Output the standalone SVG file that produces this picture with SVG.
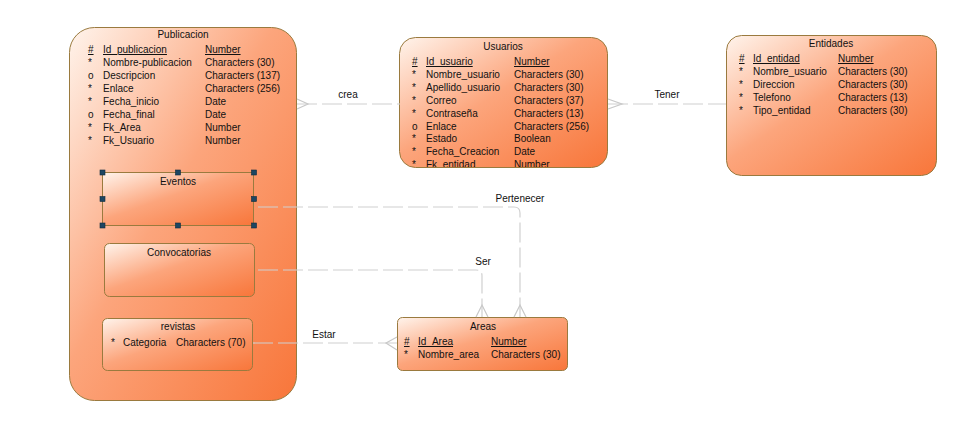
<svg xmlns="http://www.w3.org/2000/svg" width="960" height="442" viewBox="0 0 960 442">
<style>
text{font-family:"Liberation Sans",Arial,sans-serif;font-size:10px;fill:#111}
.t{text-anchor:middle}
.u{text-decoration:underline}
.box{fill:url(#g);stroke:#9a7a3e;stroke-width:1}
.con{fill:none;stroke:#d0d0d0;stroke-width:1.2;stroke-dasharray:20 5}
.cf{fill:none;stroke:#c8c8c8;stroke-width:1.2}
.h{fill:#1d4662;stroke:#0f2a3e;stroke-width:0.6}
</style>
<defs>
<linearGradient id="g" x1="0" y1="0" x2="1" y2="1">
<stop offset="0" stop-color="#fff4ec"/>
<stop offset="0.45" stop-color="#fca57c"/>
<stop offset="1" stop-color="#f8763a"/>
</linearGradient>
<clipPath id="cu"><rect x="400" y="38" width="207" height="129" rx="16"/></clipPath>
</defs>
<rect width="960" height="442" fill="#fff"/>

<g id="Publicacion">
<rect class="box" x="69.5" y="27.5" width="227" height="373" rx="25"/>
<text class="t" x="183" y="38">Publicacion</text>
<text x="88" y="53" class="u">#</text><text x="103" y="53" class="u">Id_publicacion</text><text x="205" y="53" class="u">Number</text>
<text x="88" y="66">*</text><text x="103" y="66">Nombre-publicacion</text><text x="205" y="66">Characters (30)</text>
<text x="88" y="79">o</text><text x="103" y="79">Descripcion</text><text x="205" y="79">Characters (137)</text>
<text x="88" y="92">*</text><text x="103" y="92">Enlace</text><text x="205" y="92">Characters (256)</text>
<text x="88" y="105">*</text><text x="103" y="105">Fecha_inicio</text><text x="205" y="105">Date</text>
<text x="88" y="118">o</text><text x="103" y="118">Fecha_final</text><text x="205" y="118">Date</text>
<text x="88" y="131">*</text><text x="103" y="131">Fk_Area</text><text x="205" y="131">Number</text>
<text x="88" y="144">*</text><text x="103" y="144">Fk_Usuario</text><text x="205" y="144">Number</text>
</g>

<g id="Eventos">
<rect class="box" x="102.5" y="172.5" width="151" height="53" stroke="#7a6a3a"/>
<text class="t" x="178" y="185">Eventos</text>
<rect class="h" x="100" y="170" width="5" height="5"/>
<rect class="h" x="175.5" y="170" width="5" height="5"/>
<rect class="h" x="251.5" y="170" width="5" height="5"/>
<rect class="h" x="100" y="196.5" width="5" height="5"/>
<rect class="h" x="251.5" y="196.5" width="5" height="5"/>
<rect class="h" x="100" y="223" width="5" height="5"/>
<rect class="h" x="175.5" y="223" width="5" height="5"/>
<rect class="h" x="251.5" y="223" width="5" height="5"/>
</g>

<g id="Convocatorias">
<rect class="box" x="104.5" y="243.5" width="150" height="53" rx="5"/>
<text class="t" x="179" y="256">Convocatorias</text>
</g>

<g id="revistas">
<rect class="box" x="102.5" y="318.5" width="150" height="52" rx="5"/>
<text class="t" x="178" y="330">revistas</text>
<text x="111" y="346">*</text><text x="123" y="346">Categoria</text><text x="176" y="346">Characters (70)</text>
</g>

<g id="Usuarios">
<rect class="box" x="399.5" y="37.5" width="208" height="130" rx="16"/>
<text class="t" x="503" y="50">Usuarios</text>
<g clip-path="url(#cu)">
<text x="412" y="65" class="u">#</text><text x="426" y="65" class="u">Id_usuario</text><text x="514" y="65" class="u">Number</text>
<text x="412" y="78">*</text><text x="426" y="78">Nombre_usuario</text><text x="514" y="78">Characters (30)</text>
<text x="412" y="91">*</text><text x="426" y="91">Apellido_usuario</text><text x="514" y="91">Characters (30)</text>
<text x="412" y="104">*</text><text x="426" y="104">Correo</text><text x="514" y="104">Characters (37)</text>
<text x="412" y="117">*</text><text x="426" y="117">Contraseña</text><text x="514" y="117">Characters (13)</text>
<text x="412" y="130">o</text><text x="426" y="130">Enlace</text><text x="514" y="130">Characters (256)</text>
<text x="412" y="142">*</text><text x="426" y="142">Estado</text><text x="514" y="142">Boolean</text>
<text x="412" y="155">*</text><text x="426" y="155">Fecha_Creacion</text><text x="514" y="155">Date</text>
<text x="412" y="168">*</text><text x="426" y="168">Fk_entidad</text><text x="514" y="168">Number</text>
</g>
</g>

<g id="Entidades">
<rect class="box" x="726.5" y="35.5" width="210" height="140" rx="15"/>
<text class="t" x="831" y="47">Entidades</text>
<text x="739" y="62" class="u">#</text><text x="753" y="62" class="u">Id_entidad</text><text x="838" y="62" class="u">Number</text>
<text x="739" y="75">*</text><text x="753" y="75">Nombre_usuario</text><text x="838" y="75">Characters (30)</text>
<text x="739" y="88">*</text><text x="753" y="88">Direccion</text><text x="838" y="88">Characters (30)</text>
<text x="739" y="101">*</text><text x="753" y="101">Telefono</text><text x="838" y="101">Characters (13)</text>
<text x="739" y="114">*</text><text x="753" y="114">Tipo_entidad</text><text x="838" y="114">Characters (30)</text>
</g>

<g id="Areas">
<rect class="box" x="397.5" y="317.5" width="170" height="53" rx="5"/>
<text class="t" x="483" y="330">Areas</text>
<text x="404" y="345" class="u">#</text><text x="418" y="345" class="u">Id_Area</text><text x="491" y="345" class="u">Number</text>
<text x="404" y="358">*</text><text x="418" y="358">Nombre_area</text><text x="491" y="358">Characters (30)</text>
</g>

<g id="connectors">
<path class="con" d="M297 104 H400"/>
<path class="cf" d="M297 99 L308 104 L297 109"/>
<text class="t" x="348" y="98">crea</text>
<path class="con" d="M608 104 H726"/>
<path class="cf" d="M608 99 L622 104 L608 109"/>
<text class="t" x="667" y="98">Tener</text>
<path class="con" d="M258 207 H514 Q520 207 520 213 V317"/>
<path class="cf" d="M514 317 L520 305 L526 317"/>
<text class="t" x="520" y="202">Pertenecer</text>
<path class="con" d="M258 270 H476 Q482 270 482 276 V317"/>
<path class="cf" d="M476 317 L482 305 L488 317"/>
<text class="t" x="483" y="265">Ser</text>
<path class="con" d="M253 343 H397"/>
<path class="cf" d="M397 337 L386 343 L397 350"/>
<text class="t" x="324" y="338">Estar</text>
</g>
</svg>
